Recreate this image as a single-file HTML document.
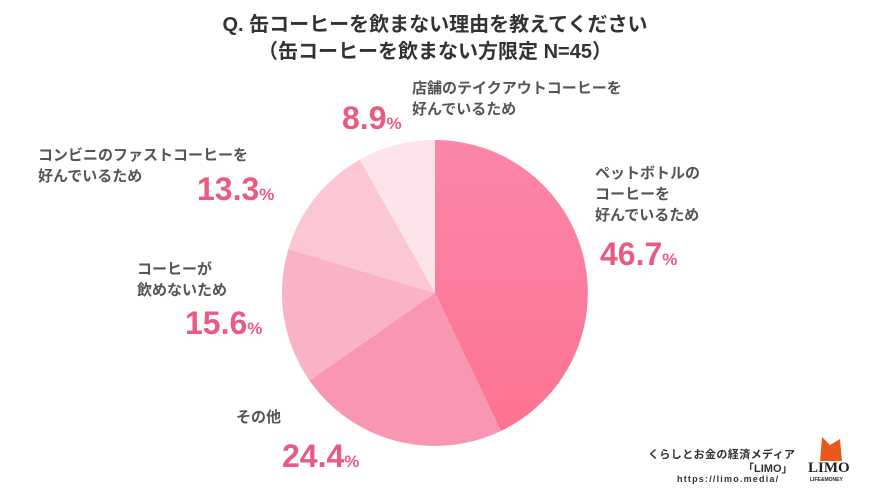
<!DOCTYPE html>
<html><head><meta charset="utf-8"><style>
body{margin:0;width:870px;height:489px;background:#fff;overflow:hidden;position:relative;font-family:"Liberation Sans","Noto Sans CJK JP",sans-serif}
.t{position:absolute;white-space:nowrap}
.title{left:0;width:870px;text-align:center;font-weight:bold;font-size:20px;color:#333}
.lb{font-weight:bold;font-size:15px;color:#555;line-height:21px}
.pc{font-weight:bold;font-size:32px;color:#e95b80}
.pc small{font-size:17px}
</style></head><body>
<div class="t title" style="top:8px">Q. 缶コーヒーを飲まない理由を教えてください</div>
<div class="t title" style="top:35px">（缶コーヒーを飲まない方限定 N=45）</div>
<svg width="870" height="489" style="position:absolute;left:0;top:0">
<defs><linearGradient id="g" x1="0" y1="0" x2="0" y2="1"><stop offset="0" stop-color="#fb86aa"/><stop offset="1" stop-color="#fd7390"/></linearGradient></defs>
<path d="M435,293 L435,140 A153,153 0 0 1 500.9,431 Z" fill="url(#g)"/>
<path d="M435,293 L500.9,431 A153,153 0 0 1 309.5,380.5 Z" fill="#f996b2"/>
<path d="M435,293 L309.5,380.5 A153,153 0 0 1 288.4,249.1 Z" fill="#f9b2c6"/>
<path d="M435,293 L288.4,249.1 A153,153 0 0 1 359.9,159.6 Z" fill="#fbc7d5"/>
<path d="M435,293 L359.9,159.6 A153,153 0 0 1 435,140 Z" fill="#fde4eb"/>
</svg>
<div class="t lb" style="left:412px;top:78px">店舗のテイクアウトコーヒーを<br>好んでいるため</div>
<div class="t pc" style="left:342px;top:100px">8.9<small>%</small></div>
<div class="t lb" style="left:38px;top:145px">コンビニのファストコーヒーを<br>好んでいるため</div>
<div class="t pc" style="left:197px;top:171px">13.3<small>%</small></div>
<div class="t lb" style="left:595px;top:163px">ペットボトルの<br>コーヒーを<br>好んでいるため</div>
<div class="t pc" style="left:600px;top:236px">46.7<small>%</small></div>
<div class="t lb" style="left:137px;top:259px">コーヒーが<br>飲めないため</div>
<div class="t pc" style="left:185px;top:305px">15.6<small>%</small></div>
<div class="t lb" style="left:236px;top:407px">その他</div>
<div class="t pc" style="left:282px;top:438px">24.4<small>%</small></div>
<div class="t" style="left:648px;top:446px;font-size:11px;font-weight:bold;color:#333;letter-spacing:0.4px">くらしとお金の経済メディア</div>
<div class="t" style="left:743px;top:460px;font-size:11px;font-weight:bold;color:#333">「LIMO」</div>
<div class="t" style="left:677px;top:474px;font-size:9px;font-weight:bold;color:#333;letter-spacing:1.2px">https://limo.media/</div>
<svg width="30" height="28" style="position:absolute;left:816px;top:435px"><polygon points="6,2 14,10 24,4 26,26 4,26" fill="#e85a1c"/></svg>
<div class="t" style="left:808px;top:460px;font-size:15px;font-weight:bold;color:#222;font-family:'Liberation Serif',serif">LIMO</div>
<div class="t" style="left:810px;top:477px;font-size:5px;font-weight:bold;color:#222">LIFE&amp;MONEY</div>
</body></html>
